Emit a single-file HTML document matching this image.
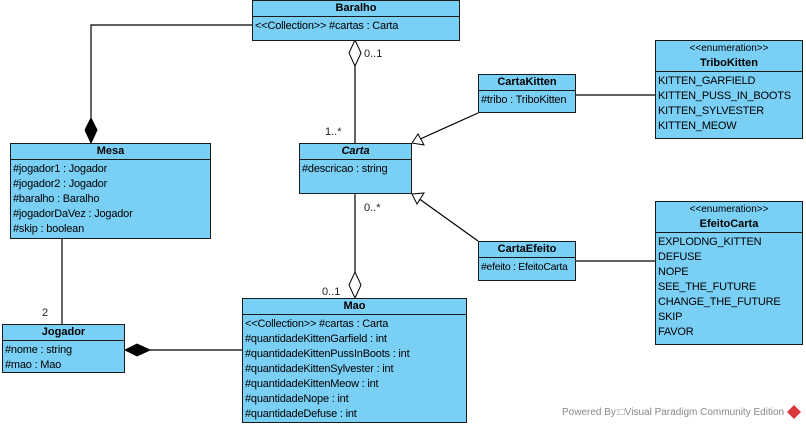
<!DOCTYPE html>
<html><head><meta charset="utf-8"><style>
body{margin:0;width:806px;height:430px;background:#fff;position:relative;overflow:hidden;font-family:"Liberation Sans",Arial,sans-serif;font-size:11px;color:#000}
.b{position:absolute;background:#7ACFF5;border:1px solid #1a1a1a;box-sizing:border-box}
.h{border-bottom:1px solid #1a1a1a;text-align:center;font-weight:bold;height:15px;line-height:15px}
.h2{border-bottom:1px solid #1a1a1a;text-align:center;height:30px;line-height:15px}
.c{padding-top:2px}
.r{height:15px;line-height:15px;padding-left:2px;white-space:nowrap;letter-spacing:-0.2px}
.l{position:absolute;font-size:11px;color:#222}
svg{position:absolute;left:0;top:0}
</style></head><body>
<svg width="806" height="430">
<g stroke="#000" stroke-width="1.2" fill="none">
<polyline points="252,25 91,25 91,118"/>
<line x1="355" y1="66" x2="355" y2="143"/>
<line x1="355" y1="193" x2="355" y2="272"/>
<line x1="478" y1="113" x2="418" y2="140"/>
<line x1="478" y1="241" x2="418" y2="198"/>
<line x1="576" y1="95" x2="655" y2="95"/>
<line x1="576" y1="261" x2="655" y2="261"/>
<line x1="62" y1="238" x2="62" y2="324"/>
<line x1="150" y1="350" x2="242" y2="350"/>
</g>
<polygon points="91,118 97,130 91,143 85,130" fill="#000" stroke="#000"/>
<polygon points="355,40 361,53 355,66 349,53" fill="#fff" stroke="#000"/>
<polygon points="355,272 361,285 355,298 349,285" fill="#fff" stroke="#000"/>
<polygon points="125,350 137,344 150,350 137,356" fill="#000" stroke="#000"/>
<polygon points="412,143 418,134 424,145" fill="#fff" stroke="#000"/>
<polygon points="412,194 424,193 417,204" fill="#fff" stroke="#000"/>
<path d="M794,405 l7,7 -7,7 -7,-7z" fill="#d9363e"/>
</svg>
<div class="l" style="left:364px;top:48px">0..1</div>
<div class="l" style="left:325px;top:126px">1..*</div>
<div class="l" style="left:364px;top:202px">0..*</div>
<div class="l" style="left:322px;top:286px">0..1</div>
<div class="l" style="left:42px;top:307px">2</div>
<div class="l" style="left:562px;top:407px;color:#888;font-size:10px">Powered By:&#9633;Visual Paradigm Community Edition</div>

<div class="b" style="left:252px;top:0;width:208px;height:41px"><div class="h">Baralho</div><div class="c"><div class="r">&lt;&lt;Collection&gt;&gt; #cartas : Carta</div></div></div>
<div class="b" style="left:10px;top:143px;width:201px;height:96px"><div class="h">Mesa</div><div class="c"><div class="r">#jogador1 : Jogador</div><div class="r">#jogador2 : Jogador</div><div class="r">#baralho : Baralho</div><div class="r">#jogadorDaVez : Jogador</div><div class="r">#skip : boolean</div></div></div>
<div class="b" style="left:299px;top:143px;width:113px;height:51px"><div class="h" style="font-style:italic">Carta</div><div class="c"><div class="r">#descricao : string</div></div></div>
<div class="b" style="left:478px;top:74px;width:98px;height:39px"><div class="h">CartaKitten</div><div class="c"><div class="r">#tribo : TriboKitten</div></div></div>
<div class="b" style="left:655px;top:40px;width:148px;height:99px"><div class="h2"><span style="font-size:10px">&lt;&lt;enumeration&gt;&gt;</span><br><b>TriboKitten</b></div><div class="c"><div class="r">KITTEN_GARFIELD</div><div class="r">KITTEN_PUSS_IN_BOOTS</div><div class="r">KITTEN_SYLVESTER</div><div class="r">KITTEN_MEOW</div></div></div>
<div class="b" style="left:478px;top:241px;width:98px;height:40px"><div class="h">CartaEfeito</div><div class="c"><div class="r" style="font-size:10.5px;letter-spacing:-0.3px">#efeito : EfeitoCarta</div></div></div>
<div class="b" style="left:655px;top:201px;width:148px;height:144px"><div class="h2"><span style="font-size:10px">&lt;&lt;enumeration&gt;&gt;</span><br><b>EfeitoCarta</b></div><div class="c"><div class="r">EXPLODNG_KITTEN</div><div class="r">DEFUSE</div><div class="r">NOPE</div><div class="r">SEE_THE_FUTURE</div><div class="r">CHANGE_THE_FUTURE</div><div class="r">SKIP</div><div class="r">FAVOR</div></div></div>
<div class="b" style="left:2px;top:324px;width:123px;height:49px"><div class="h">Jogador</div><div class="c"><div class="r">#nome : string</div><div class="r">#mao : Mao</div></div></div>
<div class="b" style="left:242px;top:298px;width:225px;height:125px"><div class="h">Mao</div><div class="c"><div class="r">&lt;&lt;Collection&gt;&gt; #cartas : Carta</div><div class="r">#quantidadeKittenGarfield : int</div><div class="r">#quantidadeKittenPussInBoots : int</div><div class="r">#quantidadeKittenSylvester : int</div><div class="r">#quantidadeKittenMeow : int</div><div class="r">#quantidadeNope : int</div><div class="r">#quantidadeDefuse : int</div></div></div>
</body></html>
